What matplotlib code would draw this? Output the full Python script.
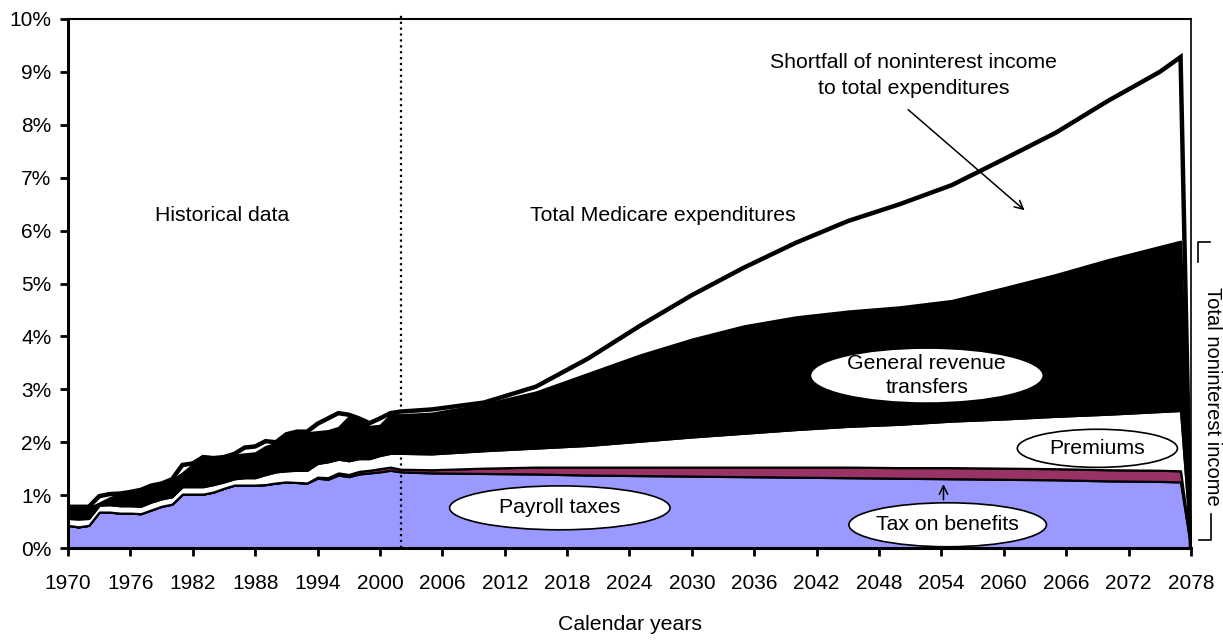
import matplotlib.pyplot as plt
from matplotlib.patches import Ellipse
import numpy as np

plt.rcParams['font.family'] = ['Liberation Sans', 'DejaVu Sans']
plt.rcParams['font.size'] = 15.3

# historical years (annual) then projected years (every 5 years), last one drops to 0
years = list(range(1970, 2003)) + [2005, 2010, 2015, 2020, 2025, 2030, 2035, 2040,
                                   2045, 2050, 2055, 2060, 2065, 2070, 2075, 2077, 2078]

payroll = [0.43, 0.40, 0.43, 0.68, 0.68, 0.66, 0.66, 0.65, 0.72, 0.79, 0.83, 1.02, 1.02,
           1.02, 1.06, 1.13, 1.19, 1.19, 1.19, 1.20, 1.23, 1.25, 1.24, 1.23, 1.32, 1.30,
           1.38, 1.35, 1.40, 1.42, 1.44, 1.47, 1.44,
           1.42, 1.41, 1.40, 1.38, 1.37, 1.36, 1.35, 1.34, 1.33, 1.32, 1.31, 1.30, 1.29,
           1.27, 1.26, 1.25, 0.0]
tax_benefits = [0.0] * 24 + [0.02, 0.03, 0.04, 0.04, 0.05, 0.05, 0.06, 0.06, 0.05,
                             0.06, 0.10, 0.13, 0.15, 0.16, 0.17, 0.18, 0.19, 0.20,
                             0.20, 0.21, 0.21, 0.21, 0.21, 0.21, 0.21, 0.0]
premiums = [0.13, 0.15, 0.13, 0.13, 0.14, 0.14, 0.14, 0.14, 0.15, 0.14, 0.14, 0.14, 0.14,
            0.14, 0.14, 0.12, 0.12, 0.14, 0.14, 0.19, 0.21, 0.21, 0.23, 0.24, 0.26, 0.30,
            0.26, 0.26, 0.24, 0.22, 0.25, 0.26, 0.30,
            0.30, 0.33, 0.36, 0.41, 0.49, 0.57, 0.64, 0.71, 0.77, 0.82, 0.88, 0.93, 0.99,
            1.05, 1.11, 1.14, 0.0]
# top of the stack = total noninterest income
income = [0.76, 0.76, 0.76, 0.85, 0.95, 1.02, 1.05, 1.09, 1.16, 1.21, 1.28, 1.42, 1.58,
          1.70, 1.69, 1.71, 1.76, 1.78, 1.80, 1.92, 1.98, 2.12, 2.18, 2.18, 2.20, 2.22,
          2.28, 2.48, 2.43, 2.30, 2.32, 2.52, 2.52,
          2.55, 2.72, 2.95, 3.30, 3.65, 3.95, 4.20, 4.37, 4.48, 4.56, 4.68, 4.92, 5.17,
          5.45, 5.70, 5.80, 0.0]
expenditures = [0.78, 0.78, 0.78, 0.98, 1.02, 1.03, 1.06, 1.10, 1.18, 1.22, 1.30, 1.57, 1.60,
                1.72, 1.70, 1.72, 1.78, 1.90, 1.92, 2.02, 2.00, 2.15, 2.20, 2.20, 2.35, 2.45,
                2.55, 2.52, 2.45, 2.36, 2.45, 2.55, 2.58,
                2.62, 2.75, 3.05, 3.58, 4.20, 4.78, 5.30, 5.77, 6.18, 6.50, 6.86, 7.35, 7.85,
                8.45, 9.00, 9.28, 0.0]

gen_revenue = np.array(income) - np.array(payroll) - np.array(tax_benefits) - np.array(premiums)

fig = plt.figure(figsize=(12.23, 6.41), dpi=100)
ax = fig.add_axes([0.0556, 0.145, 0.9182, 0.8254])

ax.stackplot(years, payroll, tax_benefits, premiums, gen_revenue,
             colors=['#9999FF', '#993366', 'white', 'black'],
             edgecolor='black', linewidth=1.6)
ax.plot(years, expenditures, color='black', lw=3.2, solid_joinstyle='miter')

ax.axvline(2002, color='black', ls=':', lw=1.6, ymax=1.01, clip_on=False)

ax.set_xlim(1970, 2078)
ax.set_ylim(0, 10)
ax.set_xticks(range(1970, 2079, 6))
ax.set_yticks(range(0, 11))
ax.set_yticklabels([f'{v}%' for v in range(0, 11)])
ax.tick_params(axis='both', direction='out', length=6, width=2, labelsize=15, pad=6)
ax.tick_params(axis='x', pad=13)
for s in ['left', 'bottom']:
    ax.spines[s].set_linewidth(2.2)
ax.spines['top'].set_linewidth(1.5)
ax.spines['right'].set_linewidth(1.2)

# labels
ax.text(1984.8, 6.28, 'Historical data', ha='center', va='center')
ax.text(2027.2, 6.28, 'Total Medicare expenditures', ha='center', va='center')
ax.text(2051.3, 8.93, 'Shortfall of noninterest income\nto total expenditures',
        ha='center', va='center', linespacing=1.45)
ax.annotate('', xy=(2062.2, 6.35), xytext=(2050.6, 8.32),
            arrowprops=dict(arrowstyle='->', color='black', lw=1.1))

ellipses = [
    (2017.3, 0.76, 21.2, 0.83, 'Payroll taxes'),
    (2054.6, 0.44, 19.0, 0.83, 'Tax on benefits'),
    (2069.0, 1.885, 15.4, 0.72, 'Premiums'),
    (2052.6, 3.26, 22.4, 1.04, 'General revenue\ntransfers'),
]
for cx, cy, w, h, label in ellipses:
    ax.add_patch(Ellipse((cx, cy), w, h, facecolor='white', edgecolor='black', lw=1.2, zorder=5))
    ax.text(cx, cy, label, ha='center', va='center', zorder=6, linespacing=1.35)

ax.annotate('', xy=(2054.2, 1.26), xytext=(2054.2, 0.86),
            arrowprops=dict(arrowstyle='->', color='black', lw=1.1), zorder=7)

# right-hand bracket
fig.text(0.9915, 1-396/641, 'Total noninterest income', rotation=270, ha='center', va='center',
         fontsize=14.5)
fig.add_artist(plt.Line2D([1198/1223, 1198/1223, 1210/1223], [1-262/641, 1-242/641, 1-242/641],
                          color='black', lw=1.2))
fig.add_artist(plt.Line2D([1199/1223, 1211/1223, 1211/1223], [1-540/641, 1-540/641, 1-514/641],
                          color='black', lw=1.2))

fig.text(630/1223, 1-625/641, 'Calendar years', ha='center', va='center')

fig.savefig('out.png', dpi=100)
